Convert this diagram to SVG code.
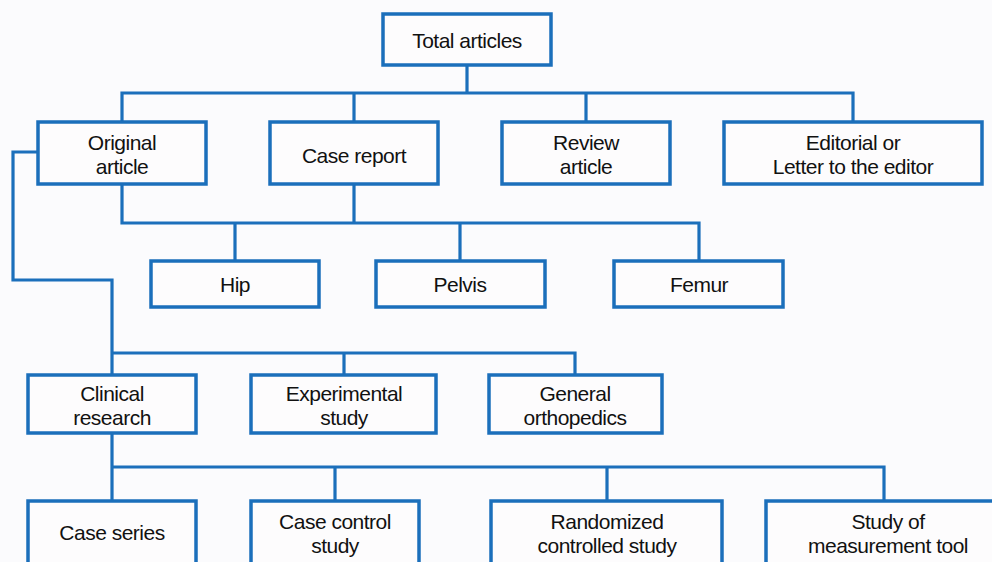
<svg xmlns="http://www.w3.org/2000/svg" width="992" height="562" viewBox="0 0 992 562">
<style>
.bg{fill:#fbfbfd}
.box{fill:#fdfcfd;stroke:#1b6fbb;stroke-width:3.5}
.ln{fill:none;stroke:#1b6fbb;stroke-width:3.2;stroke-linejoin:miter;stroke-linecap:square}
text{font-family:"Liberation Sans",Arial,sans-serif;font-size:21px;letter-spacing:-0.5px;fill:#111;text-anchor:middle}
</style>
<rect class="bg" x="0" y="0" width="992" height="562"/>
<g id="connectors">
<path class="ln" d="M467 65V93M122 122V93H853V122M354 93V122M586 93V122"/>
<path class="ln" d="M122 184V223H699V261M354 184V223M235 223V261M460 223V261"/>
<path class="ln" d="M38 152H13V280H112V375M112 353H575V375M344 353V375"/>
<path class="ln" d="M112 433V501M112 467H884V501M335 467V501M607 467V501"/>
</g>
<g id="n-total"><rect class="box" x="383" y="14" width="168" height="51"/><text x="467" y="48">Total articles</text></g>
<g id="n-original"><rect class="box" x="38" y="122" width="168" height="62"/><text x="122" y="150">Original</text><text x="122" y="174">article</text></g>
<g id="n-case-report"><rect class="box" x="270" y="122" width="168" height="62"/><text x="354" y="163">Case report</text></g>
<g id="n-review"><rect class="box" x="502" y="122" width="168" height="62"/><text x="586" y="150">Review</text><text x="586" y="174">article</text></g>
<g id="n-editorial"><rect class="box" x="724" y="122" width="258" height="62"/><text x="853" y="150">Editorial or</text><text x="853" y="174">Letter to the editor</text></g>
<g id="n-hip"><rect class="box" x="151" y="261" width="168" height="46"/><text x="235" y="292">Hip</text></g>
<g id="n-pelvis"><rect class="box" x="376" y="261" width="169" height="46"/><text x="460" y="292">Pelvis</text></g>
<g id="n-femur"><rect class="box" x="614" y="261" width="169" height="46"/><text x="699" y="292">Femur</text></g>
<g id="n-clinical"><rect class="box" x="28" y="375" width="168" height="58"/><text x="112" y="401">Clinical</text><text x="112" y="425">research</text></g>
<g id="n-experimental"><rect class="box" x="251" y="375" width="185" height="58"/><text x="344" y="401">Experimental</text><text x="344" y="425">study</text></g>
<g id="n-general"><rect class="box" x="489" y="375" width="173" height="58"/><text x="575" y="401">General</text><text x="575" y="425">orthopedics</text></g>
<g id="n-case-series"><rect class="box" x="28" y="501" width="168" height="80"/><text x="112" y="540">Case series</text></g>
<g id="n-case-control"><rect class="box" x="251" y="501" width="168" height="80"/><text x="335" y="529">Case control</text><text x="335" y="553">study</text></g>
<g id="n-rct"><rect class="box" x="491" y="501" width="231" height="80"/><text x="607" y="529">Randomized</text><text x="607" y="553">controlled study</text></g>
<g id="n-measurement"><rect class="box" x="766" y="501" width="240" height="80"/><text x="888" y="529">Study of</text><text x="888" y="553">measurement tool</text></g>
</svg>
